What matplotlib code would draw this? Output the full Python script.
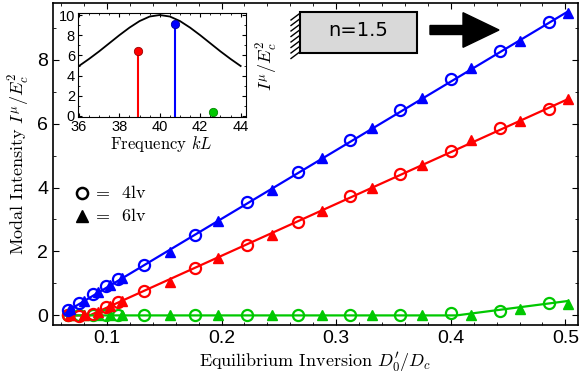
import matplotlib
matplotlib.use("Agg")
import matplotlib.pyplot as plt
from matplotlib.patches import Rectangle, Polygon
from matplotlib.lines import Line2D
from matplotlib.ticker import MultipleLocator

plt.rcParams['mathtext.fontset'] = 'cm'
plt.rcParams['axes.unicode_minus'] = False

# --- dati ---
x_4lv = [0.066, 0.076, 0.0875, 0.099, 0.110, 0.132, 0.177, 0.222, 0.267, 0.312, 0.356, 0.400, 0.443, 0.486]
blu_4lv = [0.16, 0.39, 0.68, 0.91, 1.14, 1.58, 2.52, 3.54, 4.50, 5.49, 6.43, 7.39, 8.28, 9.18]
rosso_4lv = [0.0, -0.02, 0.05, 0.25, 0.42, 0.75, 1.48, 2.21, 2.92, 3.72, 4.43, 5.15, 5.86, 6.45]
verde_4lv = [0.0, 0.0, 0.0, 0.0, 0.0, 0.0, 0.0, 0.0, 0.0, 0.0, 0.02, 0.07, 0.14, 0.38]

x_6lv = [0.068, 0.080, 0.092, 0.103, 0.113, 0.155, 0.197, 0.244, 0.2875, 0.331, 0.375, 0.418, 0.460, 0.502]
blu_6lv = [0.20, 0.46, 0.72, 0.95, 1.17, 1.97, 2.96, 3.93, 4.92, 5.86, 6.79, 7.75, 8.59, 9.45]
rosso_6lv = [0.0, 0.0, 0.10, 0.28, 0.45, 1.03, 1.79, 2.52, 3.28, 3.98, 4.71, 5.49, 6.09, 6.76]
verde_6lv = [0.0, 0.0, 0.0, 0.0, 0.0, 0.0, 0.0, 0.0, 0.0, 0.0, 0.0, 0.0, 0.20, 0.37]

linea_x_blu = [0.063, 0.502]
linea_blu = [0.08, 9.50]
linea_x_rosso = [0.063, 0.085, 0.502]
linea_rosso = [0.0, 0.0, 6.76]
linea_x_verde = [0.063, 0.405, 0.502]
linea_verde = [0.0, 0.0, 0.45]

# inset: curva di guadagno e modi
freq = [36.0, 36.5, 37.0, 37.5, 38.0, 38.5, 39.0, 39.5, 40.0, 40.5, 41.0, 41.5, 42.0, 42.5, 43.0, 43.5, 44.0]
guadagno = [4.95, 5.65, 6.4, 7.2, 8.0, 8.75, 9.4, 9.85, 10.0, 9.85, 9.4, 8.75, 8.0, 7.2, 6.4, 5.65, 4.95]
freq_modi = [38.94, 40.77, 42.65]
int_modi = [6.46, 9.08, 0.43]

colori = ['#ff0000', '#0000ff', '#00c800']
bordi_modi = ['#990000', '#000099', '#008800']
W, H = 581, 379

fig = plt.figure(figsize=(W / 100, H / 100), dpi=100)
ax = fig.add_axes([53 / W, 1 - 325 / H, 525 / W, 322 / H])

for xs, ys, c in [(linea_x_blu, linea_blu, colori[1]), (linea_x_rosso, linea_rosso, colori[0]),
                  (linea_x_verde, linea_verde, colori[2])]:
    ax.plot(xs, ys, '-', color=c, lw=1.6, zorder=2)

for y4, y6, c in [(verde_4lv, verde_6lv, colori[2]), (rosso_4lv, rosso_6lv, colori[0]),
                  (blu_4lv, blu_6lv, colori[1])]:
    ax.plot(x_4lv, y4, 'o', mfc='none', mec=c, mew=1.6, ms=8, zorder=3)
    ax.plot(x_6lv, y6, '^', color=c, ms=7.5, zorder=3)

ax.set_xlim(0.053, 0.511)
ax.set_ylim(-0.3, 9.77)
ax.xaxis.set_minor_locator(MultipleLocator(0.02))
ax.yaxis.set_minor_locator(MultipleLocator(1))
ax.tick_params(which='both', direction='in', top=True, right=True)
ax.tick_params(which='major', length=4, labelsize=14)
ax.tick_params(which='minor', length=2.5)
ax.set_xticks([0.1, 0.2, 0.3, 0.4, 0.5])
ax.set_xticklabels(['0.1', '0.2', '0.3', '0.4', '0.5'], family='Liberation Sans')
ax.set_yticks([0, 2, 4, 6, 8])
ax.set_yticklabels(['0', '2', '4', '6', '8'], family='Liberation Sans')
for s in ax.spines.values():
    s.set_linewidth(1.2)

ax.set_xlabel(r"Equilibrium Inversion $D_0'/D_c$", family='cmr10', fontsize=13, labelpad=2)
ax.set_ylabel(r"Modal Intensity $I^\mu/E_c^2$", family='cmr10', fontsize=13, labelpad=4)

# legenda a mano
fig.lines.append(Line2D([82 / W], [1 - 193 / H], marker='o', mfc='none', mec='k', mew=1.8, ms=8,
                        transform=fig.transFigure))
fig.lines.append(Line2D([82 / W], [1 - 216 / H], marker='^', color='k', ms=8,
                        transform=fig.transFigure))
fig.text(96 / W, 1 - 193 / H, "=  4lv", family='cmr10', fontsize=13, va='center')
fig.text(96 / W, 1 - 216 / H, "=  6lv", family='cmr10', fontsize=13, va='center')

# inset
axi = fig.add_axes([77.7 / W, 1 - 117.3 / H, 168 / W, 104 / H])
axi.plot(freq, guadagno, 'k-', lw=1.3)
for f, v, c, b in zip(freq_modi, int_modi, colori, bordi_modi):
    axi.plot([f, f], [0, v], '-', color=c, lw=1.5)
    axi.plot(f, v, 'o', color=c, mec=b, ms=6, mew=0.6)
axi.set_xlim(35.94, 44.25)
axi.set_ylim(-0.13, 10.17)
axi.set_xticks([36, 38, 40, 42, 44])
axi.set_xticklabels(['36', '38', '40', '42', '44'], family='Liberation Sans')
axi.set_yticks([0, 2, 4, 6, 8, 10])
axi.set_yticklabels(['0', '2', '4', '6', '8', '10'], family='Liberation Sans')
axi.xaxis.set_minor_locator(MultipleLocator(0.5))
axi.yaxis.set_minor_locator(MultipleLocator(1))
axi.tick_params(which='both', direction='in', top=True, right=True, labelsize=10.5, pad=2)
axi.tick_params(which='major', length=3)
axi.tick_params(which='minor', length=1.5)
axi.set_xlabel(r"Frequency $kL$", family='cmr10', fontsize=12, labelpad=0)
axi.yaxis.set_label_position('right')
axi.set_ylabel(r"$I^\mu/E_c^2$", fontsize=13, labelpad=6)

# schema: scatola n=1.5, muro e freccia
def px(x, y):
    return (x / W, 1 - y / H)

box = Rectangle(px(300, 52.7), 116.7 / W, 41 / H, transform=fig.transFigure,
                facecolor='#d9d9d9', edgecolor='k', lw=1.5)
fig.patches.append(box)
fig.text(358 / W, 1 - 31 / H, "n=1.5", family='DejaVu Sans', fontsize=14, ha='center', va='center')
for i in range(8):
    y0 = 14 + i * 5.5
    fig.lines.append(Line2D([291 / W, 299 / W], [1 - (y0 + 6) / H, 1 - y0 / H], color='k', lw=1,
                            transform=fig.transFigure))
freccia = Polygon([px(430, 25.5), px(463, 25.5), px(463, 12.7), px(499, 30), px(463, 47.3),
                   px(463, 34.5), px(430, 34.5)], closed=True, transform=fig.transFigure,
                  facecolor='k', edgecolor='k')
fig.patches.append(freccia)

fig.savefig('out.png', dpi=100)
